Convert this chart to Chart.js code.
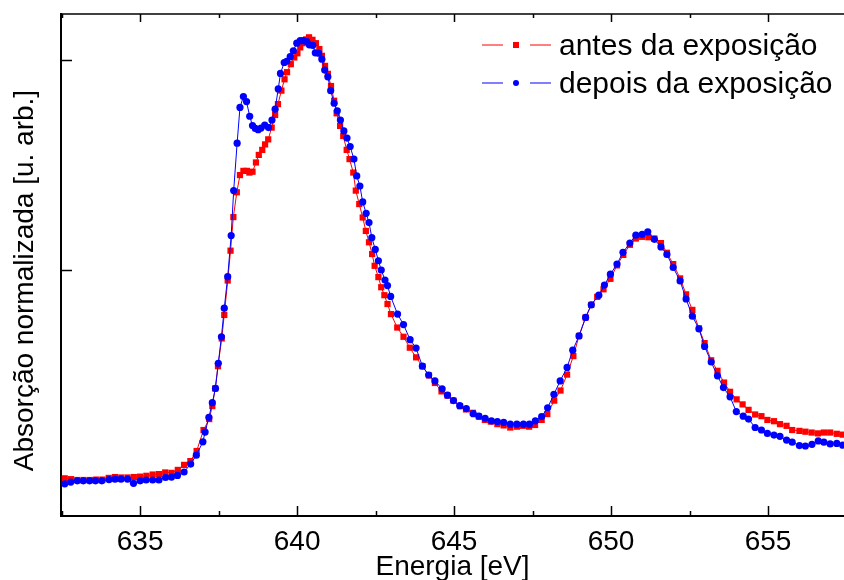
<!DOCTYPE html>
<html>
<head>
<meta charset="utf-8">
<script src="https://cdn.jsdelivr.net/npm/chart.js@4.4.0/dist/chart.umd.min.js"></script>
<style>
html, body { margin: 0; padding: 0; background: #fff; overflow: hidden; }
#wrap { width: 844px; height: 600px; }
</style>
</head>
<body>
<div id="wrap"><canvas id="xasChart" width="844" height="600"></canvas></div>
<script>
// energia [eV] e absorcao normalizada
const antesE = [
  632.6, 632.8, 633.0, 633.2, 633.4, 633.6, 633.8, 634.0, 634.2, 634.4,
  634.6, 634.8, 635.0, 635.2, 635.4, 635.6, 635.8, 636.0, 636.2, 636.4,
  636.6, 636.8, 637.02, 637.2, 637.3, 637.39, 637.48, 637.6, 637.68, 637.79,
  637.88, 637.97, 638.08, 638.18, 638.29, 638.4, 638.48, 638.58, 638.69, 638.78,
  638.89, 638.98, 639.08, 639.19, 639.3, 639.39, 639.5, 639.6, 639.68, 639.8,
  639.91, 640.01, 640.1, 640.18, 640.29, 640.38, 640.49, 640.6, 640.71, 640.79,
  640.89, 640.98, 641.08, 641.18, 641.26, 641.37, 641.47, 641.58, 641.67, 641.79,
  641.87, 641.98, 642.09, 642.19, 642.29, 642.39, 642.47, 642.59, 642.68, 642.78,
  642.88, 642.99, 643.19, 643.39, 643.59, 643.79, 643.99, 644.2, 644.39, 644.6,
  644.79, 644.98, 645.19, 645.38, 645.6, 645.79, 645.98, 646.17, 646.38, 646.58,
  646.79, 647.0, 647.19, 647.39, 647.58, 647.79, 647.97, 648.19, 648.39, 648.6,
  648.8, 648.98, 649.19, 649.37, 649.56, 649.76, 649.98, 650.19, 650.39, 650.6,
  650.79, 650.99, 651.19, 651.38, 651.59, 651.78, 651.98, 652.2, 652.39, 652.59,
  652.8, 652.98, 653.19, 653.39, 653.6, 653.79, 654.0, 654.19, 654.38, 654.59,
  654.79, 654.98, 655.19, 655.38, 655.59, 655.77, 656.0, 656.19, 656.39, 656.59,
  656.78, 656.98, 657.19, 657.38
];
const antesA = [
  0.004, 0.002, 0, 0, 0, 0.001, 0.001, 0.005, 0.007, 0.006,
  0.006, 0.007, 0.008, 0.010, 0.013, 0.014, 0.018, 0.017, 0.024, 0.036,
  0.045, 0.069, 0.119, 0.145, 0.176, 0.218, 0.271, 0.337, 0.393, 0.475,
  0.546, 0.626, 0.685, 0.726, 0.736, 0.736, 0.732, 0.734, 0.756, 0.774,
  0.786, 0.799, 0.811, 0.839, 0.869, 0.895, 0.927, 0.954, 0.971, 0.990,
  1.006, 1.016, 1.030, 1.040, 1.049, 1.054, 1.048, 1.040, 1.026, 1.010,
  0.986, 0.967, 0.938, 0.903, 0.873, 0.843, 0.819, 0.786, 0.764, 0.732,
  0.689, 0.657, 0.625, 0.593, 0.566, 0.538, 0.510, 0.483, 0.459, 0.440,
  0.419, 0.395, 0.363, 0.341, 0.315, 0.292, 0.271, 0.249, 0.231, 0.211,
  0.201, 0.189, 0.176, 0.168, 0.160, 0.151, 0.143, 0.139, 0.133, 0.130,
  0.125, 0.127, 0.129, 0.127, 0.131, 0.143, 0.157, 0.189, 0.213, 0.251,
  0.295, 0.343, 0.387, 0.417, 0.436, 0.454, 0.479, 0.511, 0.536, 0.560,
  0.575, 0.579, 0.578, 0.575, 0.564, 0.541, 0.514, 0.480, 0.442, 0.405,
  0.361, 0.326, 0.285, 0.260, 0.232, 0.210, 0.192, 0.180, 0.167, 0.156,
  0.152, 0.143, 0.140, 0.133, 0.129, 0.119, 0.117, 0.115, 0.113, 0.111,
  0.113, 0.113, 0.110, 0.108
];
const depoisE = [
  632.6, 632.79, 633.0, 633.19, 633.39, 633.58, 633.78, 634.01, 634.2, 634.39,
  634.6, 634.79, 635.0, 635.19, 635.4, 635.6, 635.81, 636.0, 636.19, 636.4,
  636.61, 636.79, 637.0, 637.07, 637.19, 637.3, 637.4, 637.49, 637.59, 637.68,
  637.79, 637.9, 637.98, 638.09, 638.18, 638.29, 638.39, 638.49, 638.58, 638.67,
  638.76, 638.85, 638.97, 639.09, 639.2, 639.3, 639.4, 639.47, 639.59, 639.67,
  639.78, 639.88, 639.99, 640.1, 640.2, 640.31, 640.39, 640.5, 640.58, 640.69,
  640.79, 640.88, 640.98, 641.07, 641.18, 641.28, 641.38, 641.49, 641.59, 641.69,
  641.81, 641.9, 642.0, 642.09, 642.2, 642.29, 642.38, 642.49, 642.59, 642.68,
  642.8, 642.88, 642.98, 643.2, 643.39, 643.6, 643.79, 643.99, 644.19, 644.39,
  644.62, 644.79, 644.98, 645.18, 645.39, 645.61, 645.79, 645.99, 646.19, 646.38,
  646.58, 646.79, 647.0, 647.21, 647.4, 647.59, 647.79, 647.98, 648.18, 648.38,
  648.6, 648.78, 648.98, 649.19, 649.37, 649.61, 649.79, 649.98, 650.19, 650.38,
  650.6, 650.79, 650.99, 651.17, 651.38, 651.59, 651.78, 651.98, 652.2, 652.39,
  652.59, 652.8, 652.98, 653.19, 653.39, 653.58, 653.79, 653.99, 654.21, 654.38,
  654.59, 654.79, 654.98, 655.19, 655.38, 655.59, 655.77, 656.0, 656.19, 656.4,
  656.6, 656.78, 656.98, 657.19, 657.38
];
const depoisA = [
  -0.009, -0.005, -0.002, -0.002, -0.002, -0.002, -0.002, 0.001, 0.002, 0.002,
  0.002, -0.008, -0.002, 0, 0, 0, 0.006, 0.007, 0.011, 0.019,
  0.038, 0.059, 0.091, 0.114, 0.149, 0.184, 0.218, 0.278, 0.341, 0.409,
  0.484, 0.582, 0.689, 0.802, 0.887, 0.913, 0.901, 0.866, 0.844, 0.837,
  0.834, 0.838, 0.845, 0.839, 0.857, 0.883, 0.931, 0.968, 0.994, 0.997,
  1.008, 1.022, 1.040, 1.046, 1.046, 1.044, 1.036, 1.035, 1.017, 1.016,
  1.002, 0.976, 0.960, 0.927, 0.897, 0.879, 0.857, 0.831, 0.814, 0.794,
  0.764, 0.724, 0.700, 0.662, 0.635, 0.613, 0.577, 0.549, 0.522, 0.500,
  0.476, 0.463, 0.437, 0.395, 0.370, 0.334, 0.314, 0.271, 0.250, 0.236,
  0.217, 0.202, 0.189, 0.177, 0.170, 0.158, 0.152, 0.147, 0.141, 0.139,
  0.137, 0.133, 0.133, 0.133, 0.133, 0.141, 0.151, 0.172, 0.204, 0.236,
  0.268, 0.309, 0.343, 0.387, 0.417, 0.440, 0.464, 0.490, 0.514, 0.542,
  0.564, 0.583, 0.585, 0.591, 0.573, 0.555, 0.537, 0.506, 0.474, 0.431,
  0.390, 0.360, 0.318, 0.281, 0.248, 0.220, 0.198, 0.163, 0.152, 0.145,
  0.125, 0.119, 0.111, 0.107, 0.104, 0.095, 0.090, 0.082, 0.081, 0.085,
  0.093, 0.090, 0.086, 0.087, 0.083
];
const seriesLabels = ['antes da exposição', 'depois da exposição'];
const xTitle = 'Energia [eV]';
// espacos no fim deslocam o titulo para baixo, como no original
const yTitle = 'Absorção normalizada [u. arb.]\u00a0\u00a0\u00a0\u00a0';

const FONT = '"Liberation Sans", Arial, sans-serif';
Chart.defaults.font.family = FONT;
Chart.defaults.color = '#000';

function toPoints(xs, ys) {
    return xs.map(function(x, i) { return { x: x, y: ys[i] }; });
}

// bordas, marcas para dentro e legenda no estilo do original
const frameAndLegend = {
    id: 'frameAndLegend',
    afterDraw: function(chart) {
        const ctx = chart.ctx;
        const a = chart.chartArea;
        const xs = chart.scales.x;
        const ys = chart.scales.y;
        ctx.save();
        ctx.strokeStyle = '#000';
        ctx.lineWidth = 1.5;
        ctx.beginPath();
        ctx.moveTo(a.left, a.top);
        ctx.lineTo(a.right, a.top);
        ctx.stroke();

        const majors = xs.ticks.map(function(t) { return t.value; });
        const minors = [];
        majors.forEach(function(v) {
            [v - 2.5, v + 2.5].forEach(function(m) {
                if (m >= xs.min && m <= xs.max && minors.indexOf(m) < 0) minors.push(m);
            });
        });
        ctx.beginPath();
        majors.forEach(function(v) {
            const px = Math.round(xs.getPixelForValue(v)) + 0.5;
            ctx.moveTo(px, a.bottom); ctx.lineTo(px, a.bottom - 10);
            ctx.moveTo(px, a.top); ctx.lineTo(px, a.top + 8);
        });
        minors.forEach(function(v) {
            const px = Math.round(xs.getPixelForValue(v)) + 0.5;
            ctx.moveTo(px, a.bottom); ctx.lineTo(px, a.bottom - 5);
            ctx.moveTo(px, a.top); ctx.lineTo(px, a.top + 4);
        });
        ys.ticks.forEach(function(t) {
            if (t.value <= 0) return;
            const py = Math.round(ys.getPixelForValue(t.value)) + 0.5;
            ctx.moveTo(a.left, py); ctx.lineTo(a.left + 11, py);
        });
        ctx.stroke();

        // legenda
        const x0 = a.right - 362;
        chart.data.datasets.forEach(function(ds, i) {
            const y = a.top + 31 + i * 38;
            ctx.strokeStyle = ds.borderColor;
            ctx.lineWidth = 1;
            ctx.beginPath();
            ctx.moveTo(x0, y); ctx.lineTo(x0 + 21, y);
            ctx.moveTo(x0 + 48, y); ctx.lineTo(x0 + 69, y);
            ctx.stroke();
            ctx.fillStyle = ds.pointBackgroundColor;
            if (ds.pointStyle === 'rect') {
                ctx.fillRect(x0 + 31, y - 3, 6, 6);
            } else {
                ctx.beginPath();
                ctx.arc(x0 + 34, y, 3, 0, Math.PI * 2);
                ctx.fill();
            }
            ctx.fillStyle = '#000';
            ctx.font = '30px ' + FONT;
            ctx.textBaseline = 'alphabetic';
            ctx.textAlign = 'left';
            ctx.fillText(ds.label, x0 + 77, y + 10);
        });
        ctx.restore();
    }
};

const ctx = document.getElementById('xasChart').getContext('2d');
new Chart(ctx, {
    type: 'scatter',
    data: {
        datasets: [
            {
                label: seriesLabels[0],
                data: toPoints(antesE, antesA),
                showLine: true,
                borderColor: '#ff0000',
                borderWidth: 1,
                pointStyle: 'rect',
                pointRadius: 4.4,
                pointBorderWidth: 0,
                pointBackgroundColor: '#ff0000',
                order: 2
            },
            {
                label: seriesLabels[1],
                data: toPoints(depoisE, depoisA),
                showLine: true,
                borderColor: '#0000ff',
                borderWidth: 1,
                pointStyle: 'circle',
                pointRadius: 3.6,
                pointBorderWidth: 0,
                pointBackgroundColor: '#0000ff',
                order: 1
            }
        ]
    },
    options: {
        responsive: false,
        animation: false,
        events: [],
        layout: {
            autoPadding: false,
            padding: { top: 14, left: 0, right: 0, bottom: 0 }
        },
        plugins: {
            legend: { display: false },
            tooltip: { enabled: false }
        },
        scales: {
            x: {
                type: 'linear',
                position: 'bottom',
                min: 632.48,
                max: 657.42,
                grid: { display: false, drawTicks: false },
                border: { display: true, color: '#000', width: 2 },
                ticks: {
                    stepSize: 5,
                    includeBounds: false,
                    padding: 9,
                    maxRotation: 0,
                    font: { size: 28 },
                    color: '#000'
                },
                title: {
                    display: true,
                    text: xTitle,
                    font: { size: 28 },
                    color: '#000',
                    padding: { top: 16, bottom: 16 }
                },
                afterFit: function(scale) { scale.height = 84; }
            },
            y: {
                type: 'linear',
                position: 'left',
                min: -0.0857,
                max: 1.1095,
                grid: { display: false, drawTicks: false },
                border: { display: true, color: '#000', width: 2 },
                ticks: {
                    display: false,
                    stepSize: 0.5,
                    includeBounds: false
                },
                title: {
                    display: true,
                    text: yTitle,
                    font: { size: 28 },
                    color: '#000',
                    padding: { top: 8, bottom: 8 }
                },
                afterFit: function(scale) { scale.width = 61; }
            }
        }
    },
    plugins: [frameAndLegend]
});
</script>
</body>
</html>
